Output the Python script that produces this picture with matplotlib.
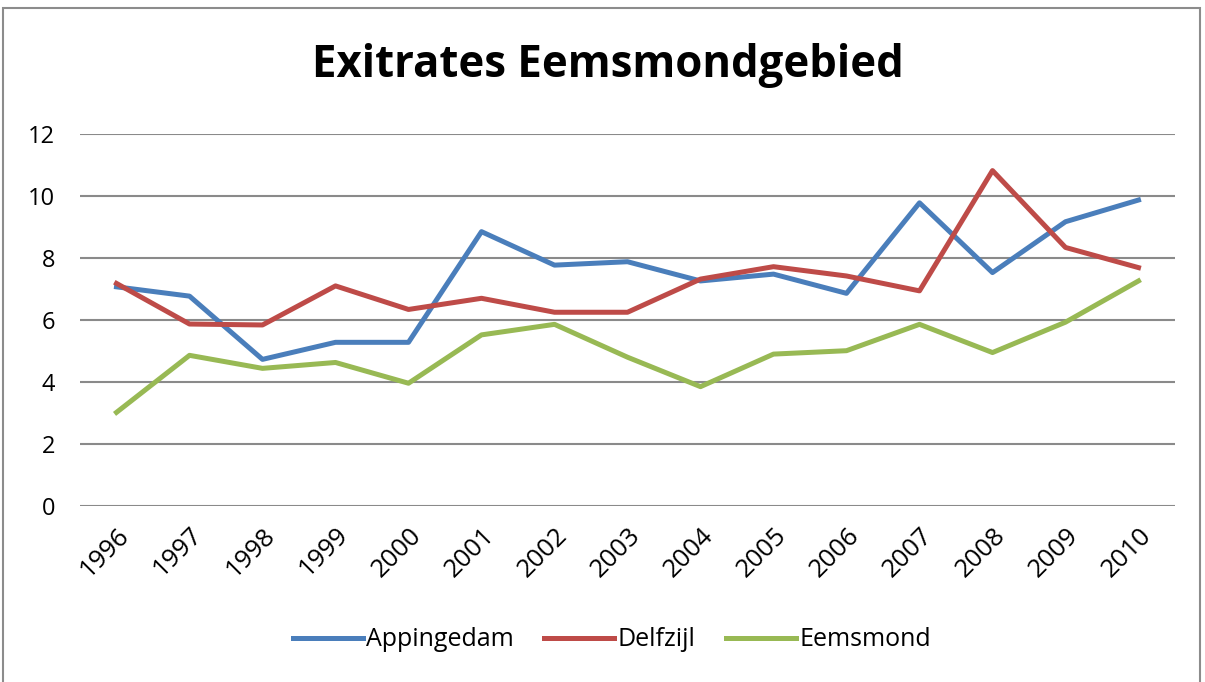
import matplotlib
matplotlib.use("Agg")
import matplotlib.pyplot as plt
from matplotlib.patches import Rectangle

plt.rcParams['font.family'] = ['Liberation Sans Narrow', 'Open Sans', 'DejaVu Sans']

years = list(range(1996, 2011))
appingedam = [7.07, 6.77, 4.73, 5.28, 5.28, 8.85, 7.77, 7.88, 7.26, 7.48, 6.86, 9.78, 7.53, 9.17, 9.87]
delfzijl = [7.18, 5.87, 5.84, 7.10, 6.34, 6.70, 6.25, 6.25, 7.32, 7.72, 7.42, 6.94, 10.82, 8.34, 7.69]
eemsmond = [3.02, 4.86, 4.44, 4.63, 3.96, 5.52, 5.86, 4.80, 3.85, 4.90, 5.01, 5.86, 4.95, 5.93, 7.26]

W, H = 1205, 682
fig = plt.figure(figsize=(W / 100, H / 100), dpi=100)
fig.patch.set_facecolor('white')

# outer chart border
fig.patches.append(Rectangle((3 / W, -0.05), 1197 / W, 1.05 - 8 / H,
                             transform=fig.transFigure, fill=False,
                             edgecolor='#8c8c8c', linewidth=1.5))

ax = fig.add_axes([80 / W, 1 - 506 / H, (1175 - 80) / W, (506 - 134) / H])

x = list(range(len(years)))
ax.plot(x, appingedam, color='#4A7EBB', linewidth=3.6, label='Appingedam')
ax.plot(x, delfzijl, color='#BE4B48', linewidth=3.6, label='Delfzijl')
ax.plot(x, eemsmond, color='#98B954', linewidth=3.6, label='Eemsmond')

ax.set_ylim(0, 12)
ax.set_xlim(-0.5, len(years) - 0.5)
ax.set_yticks(range(0, 13, 2))
ax.set_xticks(x)
ax.set_xticklabels([str(y) for y in years], rotation=45, ha='right',
                   rotation_mode='anchor', fontsize=18.5)
ax.tick_params(axis='y', labelsize=17, length=0, pad=18)
ax.tick_params(axis='x', length=0, pad=12)
for s in ax.spines.values():
    s.set_visible(False)
ax.grid(axis='y', color='#8a8a8a', linewidth=1.5)
ax.set_axisbelow(True)

fig.text(608 / W, 1 - 65 / H, 'Exitrates Eemsmondgebied', ha='center', va='center',
         fontsize=31.5, fontweight='bold')

fig.legend(loc='center', bbox_to_anchor=(612 / W, 1 - 640 / H), ncol=3, frameon=False,
           fontsize=18, handlelength=2.8, handletextpad=0.15, columnspacing=1.2)

fig.savefig('out.png', dpi=100)
